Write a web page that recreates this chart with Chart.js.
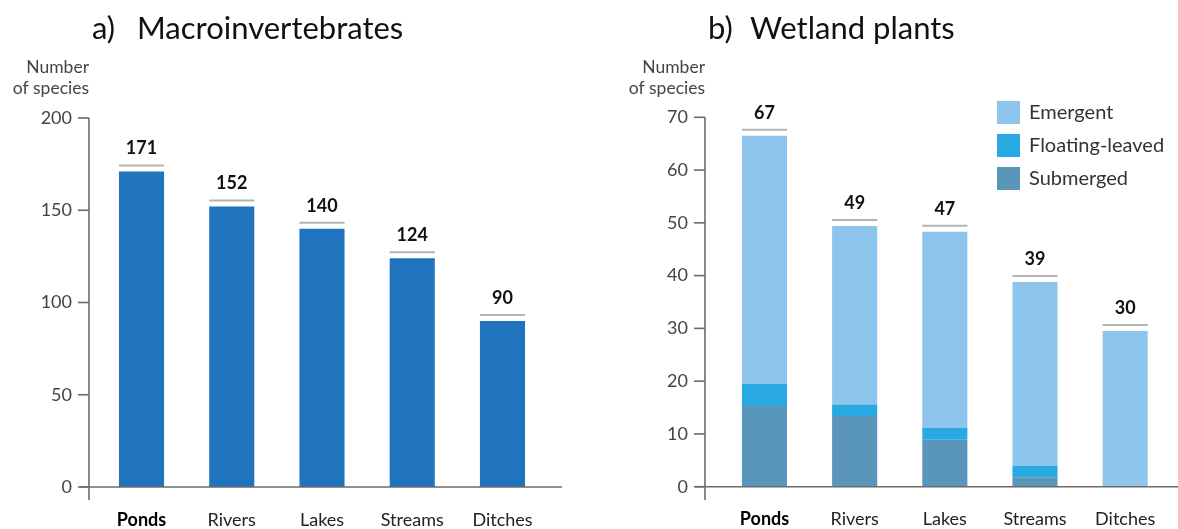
<!DOCTYPE html>
<html><head><meta charset="utf-8">
<script src="https://cdn.jsdelivr.net/npm/chart.js@4"></script>
<style>
html,body{margin:0;padding:0;background:#fff;}
#wrap{position:relative;width:1178px;height:529px;overflow:hidden;}
.c{position:absolute;top:0;width:589px;height:529px;}
</style></head><body>
<div id="wrap">
<div class="c" style="left:0"><canvas id="c1" width="589" height="529"></canvas></div>
<div class="c" style="left:589px"><canvas id="c2" width="589" height="529"></canvas></div>
</div>
<script>
const categories = ['Ponds','Rivers','Lakes','Streams','Ditches'];
const macroValues = [171,152,140,124,90];
const macroLabels = ['171','152','140','124','90'];
const macroTicks = [0,50,100,150,200];
const plantSubmerged = [15.3,13.4,8.9,1.8,0];
const plantFloating = [4.2,2.2,2.2,2.1,0];
const plantEmergent = [47.0,33.8,37.2,34.9,29.5];
const plantTotals = ['67','49','47','39','30'];
const plantTicks = [0,10,20,30,40,50,60,70];

const FONT = 'Lato, "Noto Sans", sans-serif';
const AXIS_COLOR = '#6b6b6b';
const TEXT_COLOR = '#444';

const decorPlugin = {
  id: 'decor',
  afterDraw(chart, args, o) {
    const ctx = chart.ctx;
    const y = chart.scales.y;
    const ca = chart.chartArea;
    ctx.save();
    ctx.strokeStyle = AXIS_COLOR;
    ctx.lineWidth = 1.6;
    const yTop = y.getPixelForValue(y.max);
    ctx.beginPath();
    ctx.moveTo(o.axisX, yTop);
    ctx.lineTo(o.axisX, o.yLineBottom);
    ctx.stroke();
    y.ticks.forEach(t => {
      const py = y.getPixelForValue(t.value);
      ctx.beginPath();
      ctx.moveTo(o.axisX - o.tickLen, py);
      ctx.lineTo(o.axisX, py);
      ctx.stroke();
    });
    ctx.beginPath();
    ctx.moveTo(o.xLineLeft, ca.bottom);
    ctx.lineTo(o.xLineRight, ca.bottom);
    ctx.stroke();
    ctx.fillStyle = '#111';
    ctx.font = '31px ' + FONT;
    ctx.textBaseline = 'alphabetic';
    ctx.textAlign = 'left';
    ctx.fillText(o.prefix, o.axisX + 3, 39);
    ctx.fillText(o.title, o.titleX, 39);
    ctx.fillStyle = TEXT_COLOR;
    ctx.font = '17.5px ' + FONT;
    ctx.textAlign = 'right';
    ctx.fillText('Number', o.axisX, 73);
    ctx.fillText('of species', o.axisX, 94);
    const meta0 = chart.getDatasetMeta(0);
    const n = chart.data.labels.length;
    for (let i = 0; i < n; i++) {
      let sum = 0;
      chart.data.datasets.forEach(ds => { sum += ds.data[i]; });
      const top = y.getPixelForValue(sum);
      const el = meta0.data[i];
      const w = el.width;
      ctx.strokeStyle = '#b3b3b3';
      ctx.lineWidth = 2;
      ctx.beginPath();
      ctx.moveTo(el.x - w / 2, top - 6);
      ctx.lineTo(el.x + w / 2, top - 6);
      ctx.stroke();
      ctx.fillStyle = '#111';
      ctx.font = 'bold 18px ' + FONT;
      ctx.textAlign = 'center';
      ctx.textBaseline = 'middle';
      ctx.fillText(o.totals[i], el.x, top - 23);
    }
    if (o.legend) {
      const items = chart.data.datasets.slice().reverse();
      items.forEach((ds, k) => {
        const sy = o.legend.y + k * 33;
        ctx.fillStyle = ds.backgroundColor;
        ctx.fillRect(o.legend.x, sy, 23, 23);
        ctx.fillStyle = '#333';
        ctx.font = '20px ' + FONT;
        ctx.textAlign = 'left';
        ctx.textBaseline = 'middle';
        ctx.fillText(ds.label, o.legend.x + 32, sy + 12);
      });
    }
    ctx.restore();
  }
};

function makeOptions(cfg) {
  return {
    responsive: false,
    animation: false,
    events: [],
    layout: { padding: { left: cfg.padLeft, right: cfg.padRight, top: cfg.padTop, bottom: 0 } },
    plugins: {
      legend: { display: false },
      tooltip: { enabled: false },
      decor: cfg.decor
    },
    scales: {
      x: {
        stacked: true,
        grid: { display: false, drawTicks: false },
        border: { display: false },
        ticks: {
          padding: 22,
          color: ctx => ctx.index === 0 ? '#000' : '#222',
          font: ctx => ({ family: FONT, size: 18, weight: ctx.index === 0 ? 'bold' : 'normal' })
        },
        afterFit: s => { s.height = cfg.xHeight; }
      },
      y: {
        stacked: true,
        min: 0,
        max: cfg.max,
        grid: { display: false, drawTicks: false },
        border: { display: false },
        ticks: { padding: cfg.tickPad, color: TEXT_COLOR, font: { family: FONT, size: 18 } },
        afterBuildTicks: s => { s.ticks = cfg.ticks.map(v => ({ value: v })); },
        afterFit: s => { s.width = 90; }
      }
    }
  };
}

new Chart(document.getElementById('c1'), {
  type: 'bar',
  data: {
    labels: categories,
    datasets: [{ label: 'Species', data: macroValues, backgroundColor: '#1f74bd', categoryPercentage: 1, barPercentage: 0.5 }]
  },
  options: makeOptions({
    padLeft: 6.4, padRight: 41.4, padTop: 118, xHeight: 42, max: 200, ticks: macroTicks, tickPad: 24.4,
    decor: { axisX: 89, yLineBottom: 500, tickLen: 11, xLineLeft: 80, xLineRight: 562,
      prefix: 'a)', title: 'Macroinvertebrates', titleX: 137, totals: macroLabels }
  }),
  plugins: [decorPlugin]
});

new Chart(document.getElementById('c2'), {
  type: 'bar',
  data: {
    labels: categories,
    datasets: [
      { label: 'Submerged', data: plantSubmerged, backgroundColor: '#5a95ba', categoryPercentage: 1, barPercentage: 0.5 },
      { label: 'Floating-leaved', data: plantFloating, backgroundColor: '#29a9e1', categoryPercentage: 1, barPercentage: 0.5 },
      { label: 'Emergent', data: plantEmergent, backgroundColor: '#8ec5ec', categoryPercentage: 1, barPercentage: 0.5 }
    ]
  },
  options: makeOptions({
    padLeft: 40.4, padRight: 7.4, padTop: 117.3, xHeight: 42.3, max: 70, ticks: plantTicks, tickPad: 31.4,
    decor: { axisX: 116, yLineBottom: 500, tickLen: 11, xLineLeft: 106, xLineRight: 589,
      prefix: 'b)', title: 'Wetland plants', titleX: 161, totals: plantTotals,
      legend: { x: 408, y: 101 } }
  }),
  plugins: [decorPlugin]
});
</script>
</body></html>
